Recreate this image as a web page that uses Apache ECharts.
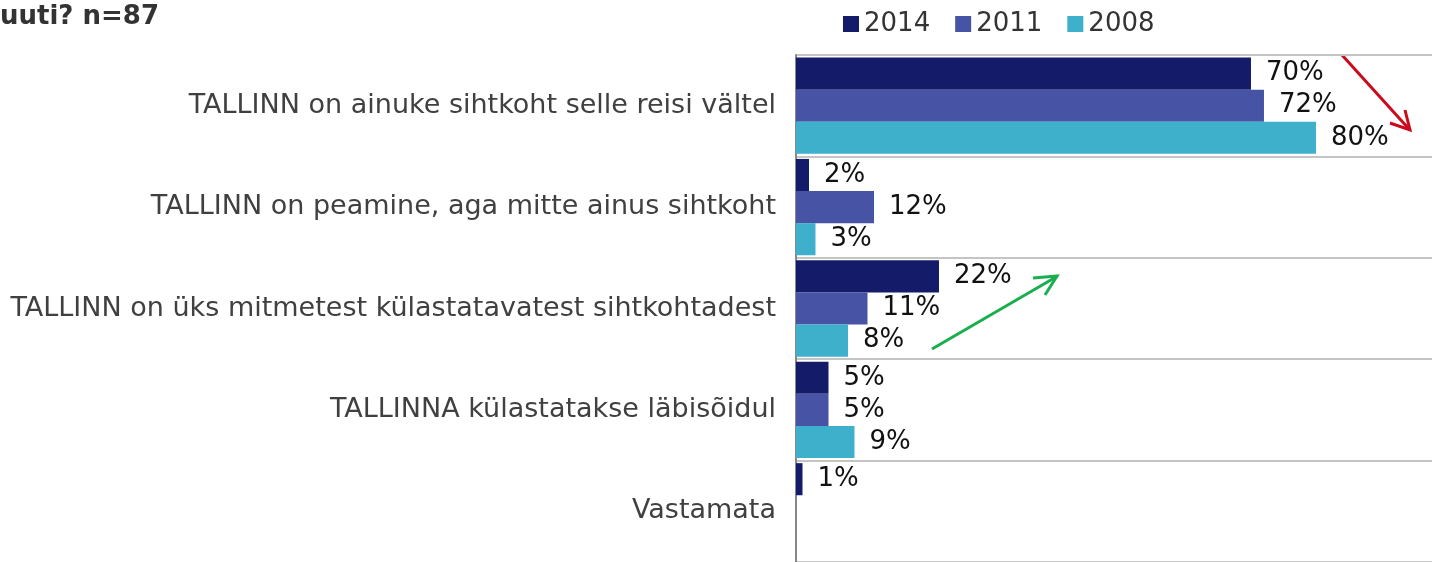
<!DOCTYPE html>
<html><head><meta charset="utf-8">
<script src="https://cdn.jsdelivr.net/npm/echarts@6/dist/echarts.min.js"></script>
<style>html,body{margin:0;padding:0;background:#fff}#c{width:1432px;height:562px}</style>
</head><body><div id="c"></div>
<script>
const categories = [
  'TALLINN on ainuke sihtkoht selle reisi vältel',
  'TALLINN on peamine, aga mitte ainus sihtkoht',
  'TALLINN on üks mitmetest külastatavatest sihtkohtadest',
  'TALLINNA külastatakse läbisõidul',
  'Vastamata'
];
const seriesNames = ['2014', '2011', '2008'];
const values2014 = [70, 2, 22, 5, 1];
const values2011 = [72, 12, 11, 5, null];
const values2008 = [80, 3, 8, 9, null];
const colors = ['#141c6a', '#4753a5', '#3fb0cc'];
const titleText = 'uuti? n=87';

const chart = echarts.init(document.getElementById('c'), null, {renderer: 'canvas'});
const mk = (name, data, color) => ({
  name, type: 'bar', data,
  barGap: '0%', barCategoryGap: '5%',
  itemStyle: {color},
  label: {show: true, position: 'right', distance: 15, formatter: p => p.value + '%',
    color: '#111', fontSize: 26, fontFamily: 'DejaVu Sans'}
});
chart.setOption({
  animation: false,
  title: {text: titleText, left: 0, top: 4, padding: 0,
    textStyle: {fontFamily: 'DejaVu Sans', fontWeight: 'bold', fontSize: 26, color: '#333'}},
  legend: {data: seriesNames, left: 838, top: 6, itemWidth: 16, itemHeight: 16, itemGap: 25,
    icon: 'rect', textStyle: {fontFamily: 'DejaVu Sans', fontSize: 26, color: '#333'}},
  grid: {left: 796, top: 55, right: 0, height: 512, containLabel: false},
  xAxis: {type: 'value', min: 0, max: 97.85, show: false},
  yAxis: {type: 'category', data: categories, inverse: true,
    axisLine: {show: true, lineStyle: {color: '#888', width: 2}},
    axisTick: {show: false},
    axisLabel: {margin: 20, fontFamily: 'DejaVu Sans', fontSize: 27, color: '#404040'},
    splitLine: {show: true, lineStyle: {color: '#c4c4c4', width: 2}}},
  series: [mk(seriesNames[0], values2014, colors[0]), mk(seriesNames[1], values2011, colors[1]), mk(seriesNames[2], values2008, colors[2])],
  graphic: [
    {type: 'line', shape: {x1: 1342, y1: 55, x2: 1409, y2: 129}, style: {stroke: '#cc0a1e', lineWidth: 3}},
    {type: 'polyline', shape: {points: [[1390, 123], [1410, 130], [1405, 110]]}, style: {stroke: '#cc0a1e', lineWidth: 3, fill: null}},
    {type: 'line', shape: {x1: 932, y1: 349, x2: 1056, y2: 277}, style: {stroke: '#1aae4f', lineWidth: 3}},
    {type: 'polyline', shape: {points: [[1033, 278], [1057, 276], [1045, 295]]}, style: {stroke: '#1aae4f', lineWidth: 3, fill: null}}
  ]
});
</script></body></html>
